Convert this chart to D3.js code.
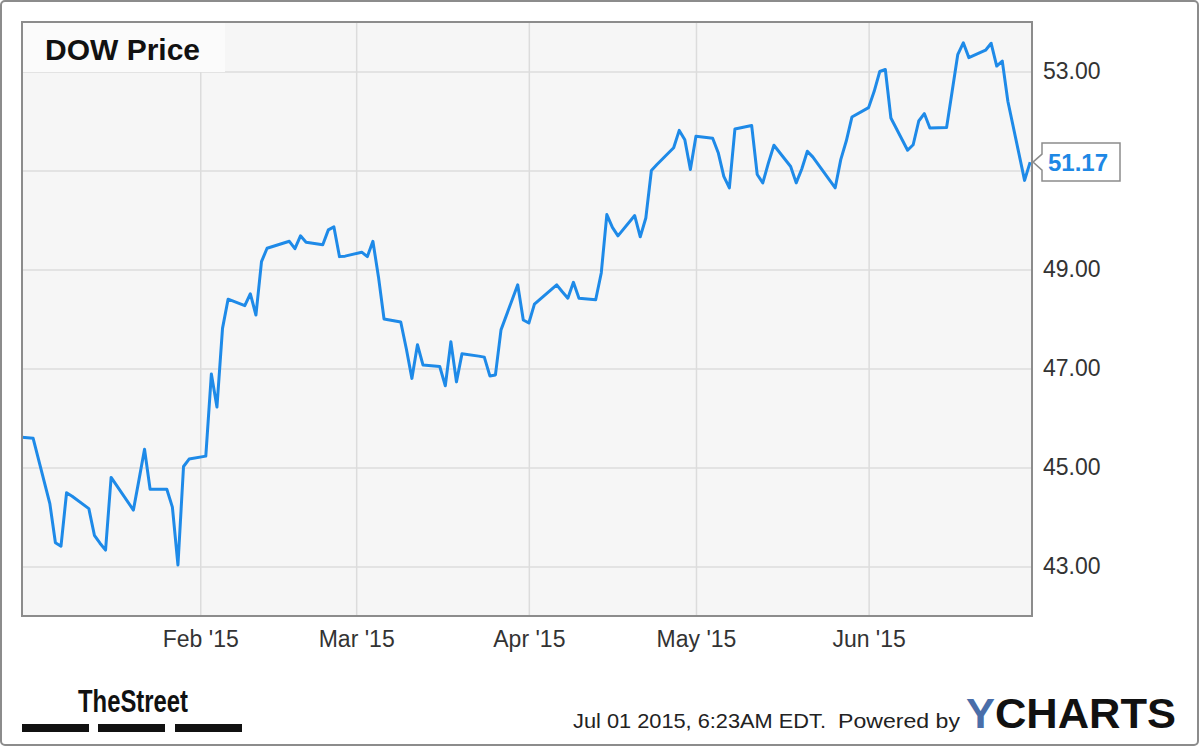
<!DOCTYPE html>
<html>
<head>
<meta charset="utf-8">
<script src="https://cdn.jsdelivr.net/npm/d3@7"></script>
<style>
  body { margin: 0; background: #fff; }
  svg { display: block; font-family: "Liberation Sans", Arial, sans-serif; }
  .grid line { stroke: #dcdcdc; stroke-width: 1.5; }
  .grid path { display: none; }
  .lbl path, .lbl line { display: none; }
  .lbl text { fill: #333; font-size: 23px; }
</style>
</head>
<body>
<div id="chart"></div>
<script>
// chart data
var dates = [
  "2014-12-31", "2015-01-02", "2015-01-05", "2015-01-06", "2015-01-07", "2015-01-08", "2015-01-09",
  "2015-01-12", "2015-01-13", "2015-01-14", "2015-01-15", "2015-01-16", "2015-01-20", "2015-01-21",
  "2015-01-22", "2015-01-23", "2015-01-26", "2015-01-27", "2015-01-28", "2015-01-29", "2015-01-30",
  "2015-02-02", "2015-02-03", "2015-02-04", "2015-02-05", "2015-02-06", "2015-02-09", "2015-02-10",
  "2015-02-11", "2015-02-12", "2015-02-13", "2015-02-17", "2015-02-18", "2015-02-19", "2015-02-20",
  "2015-02-23", "2015-02-24", "2015-02-25", "2015-02-26", "2015-02-27", "2015-03-02", "2015-03-03",
  "2015-03-04", "2015-03-05", "2015-03-06", "2015-03-09", "2015-03-10", "2015-03-11", "2015-03-12",
  "2015-03-13", "2015-03-16", "2015-03-17", "2015-03-18", "2015-03-19", "2015-03-20", "2015-03-23",
  "2015-03-24", "2015-03-25", "2015-03-26", "2015-03-27", "2015-03-30", "2015-03-31", "2015-04-01",
  "2015-04-02", "2015-04-06", "2015-04-07", "2015-04-08", "2015-04-09", "2015-04-10", "2015-04-13",
  "2015-04-14", "2015-04-15", "2015-04-16", "2015-04-17", "2015-04-20", "2015-04-21", "2015-04-22",
  "2015-04-23", "2015-04-24", "2015-04-27", "2015-04-28", "2015-04-29", "2015-04-30", "2015-05-01",
  "2015-05-04", "2015-05-05", "2015-05-06", "2015-05-07", "2015-05-08", "2015-05-11", "2015-05-12",
  "2015-05-13", "2015-05-14", "2015-05-15", "2015-05-18", "2015-05-19", "2015-05-20", "2015-05-21",
  "2015-05-22", "2015-05-26", "2015-05-27", "2015-05-28", "2015-05-29", "2015-06-01", "2015-06-02",
  "2015-06-03", "2015-06-04", "2015-06-05", "2015-06-08", "2015-06-09", "2015-06-10", "2015-06-11",
  "2015-06-12", "2015-06-15", "2015-06-16", "2015-06-17", "2015-06-18", "2015-06-19", "2015-06-22",
  "2015-06-23", "2015-06-24", "2015-06-25", "2015-06-26", "2015-06-29", "2015-06-30"
]

var prices = [
  45.61, 45.59, 44.27, 43.48, 43.41, 44.49, 44.42,
  44.17, 43.63, 43.47, 43.33, 44.80, 44.14, 44.75,
  45.37, 44.56, 44.56, 44.20, 43.03, 45.02, 45.17,
  45.23, 46.89, 46.22, 47.81, 48.40, 48.27, 48.51,
  48.08, 49.16, 49.43, 49.57, 49.42, 49.68, 49.55,
  49.50, 49.80, 49.86, 49.26, 49.27, 49.35, 49.26,
  49.57, 48.85, 48.00, 47.94, 47.40, 46.80, 47.48,
  47.07, 47.04, 46.65, 47.54, 46.73, 47.30, 47.25,
  47.23, 46.85, 46.87, 47.78, 48.69, 47.98, 47.92,
  48.30, 48.69, 48.55, 48.42, 48.74, 48.42, 48.39,
  48.93, 50.11, 49.85, 49.68, 50.09, 49.66, 50.04,
  51.00, 51.12, 51.46, 51.81, 51.62, 51.02, 51.69,
  51.65, 51.36, 50.88, 50.65, 51.84, 51.91, 50.92,
  50.75, 51.15, 51.51, 51.08, 50.75, 51.03, 51.39,
  51.27, 50.65, 51.22, 51.60, 52.08, 52.27, 52.60,
  53.00, 53.04, 52.06, 51.41, 51.52, 52.00, 52.15,
  51.86, 51.87, 52.60, 53.34, 53.58, 53.28, 53.43,
  53.57, 53.11, 53.21, 52.40, 50.80, 51.17
]

var yTicks = [43, 45, 47, 49, 51, 53]
var xTicks = ["2015-02-01", "2015-03-01", "2015-04-01", "2015-05-01", "2015-06-01"]

var svgWidth = 1200
var svgHeight = 747

// plot box inside the frame
var plot = { left: 22, top: 22, right: 1032, bottom: 616 }
var width = plot.right - plot.left
var height = plot.bottom - plot.top

var parseDate = d3.timeParse("%Y-%m-%d")
var data = dates.map(function(d, i) {
  return { date: parseDate(d), price: prices[i] }
})

var svg = d3.select("#chart")
  .append("svg")
  .attr("width", svgWidth)
  .attr("height", svgHeight)

// outer frame
svg.append("rect")
  .attr("x", 1).attr("y", 1)
  .attr("width", svgWidth - 3).attr("height", svgHeight - 3)
  .attr("rx", 4)
  .attr("fill", "#fff")
  .attr("stroke", "#8c8c8c")
  .attr("stroke-width", 2)

// scales
var xScale = d3.scaleTime()
  .domain([new Date(2014, 11, 31), new Date(2015, 5, 30, 8)])
  .range([plot.left, plot.right])

var yScale = d3.scaleLinear()
  .domain([42, 54])
  .range([plot.bottom, plot.top])

// plot background
svg.append("rect")
  .attr("x", plot.left).attr("y", plot.top)
  .attr("width", width).attr("height", height)
  .attr("fill", "#f6f6f6")

// gridlines
svg.append("g")
  .attr("class", "grid")
  .attr("transform", `translate(${plot.left}, 0)`)
  .call(d3.axisLeft(yScale).tickValues(yTicks).tickSize(-width).tickFormat(""))

svg.append("g")
  .attr("class", "grid")
  .attr("transform", `translate(0, ${plot.bottom})`)
  .call(d3.axisBottom(xScale).tickValues(xTicks.map(parseDate)).tickSize(-height).tickFormat(""))

// title box
svg.append("rect")
  .attr("x", plot.left).attr("y", plot.top)
  .attr("width", 203).attr("height", 50)
  .attr("fill", "#fbfbfb")

svg.append("text")
  .attr("x", 45).attr("y", 60)
  .attr("font-size", 30)
  .attr("font-weight", "bold")
  .attr("fill", "#111")
  .text("DOW Price")

// price line
var line = d3.line()
  .x(d => xScale(d.date))
  .y(d => yScale(d.price))

svg.append("path")
  .datum(data)
  .attr("fill", "none")
  .attr("stroke", "#1e8ae8")
  .attr("stroke-width", 3)
  .attr("stroke-linejoin", "round")
  .attr("d", line)

// plot border
svg.append("rect")
  .attr("x", plot.left).attr("y", plot.top)
  .attr("width", width).attr("height", height)
  .attr("fill", "none")
  .attr("stroke", "#8c8c8c")
  .attr("stroke-width", 2)

// last value position (its flag hides the tick label under it)
var last = data[data.length - 1]
var ly = yScale(last.price)

// axis labels
svg.append("g")
  .attr("class", "lbl")
  .attr("transform", `translate(${plot.right}, 0)`)
  .call(d3.axisRight(yScale)
    .tickValues(yTicks.filter(t => Math.abs(yScale(t) - ly) > 22))
    .tickSize(0).tickPadding(11).tickFormat(d3.format(".2f")))

svg.append("g")
  .attr("class", "lbl")
  .attr("transform", `translate(0, ${plot.bottom})`)
  .call(d3.axisBottom(xScale).tickValues(xTicks.map(parseDate)).tickSize(0).tickPadding(15)
    .tickFormat(d3.timeFormat("%b '%y")))

// last value flag
var bx = plot.right + 10
svg.append("path")
  .attr("d", `M${bx},${ly - 19} H${bx + 78} V${ly + 19} H${bx} V${ly + 8} L${plot.right + 1},${ly} L${bx},${ly - 8} Z`)
  .attr("fill", "#fff")
  .attr("stroke", "#8c8c8c")
  .attr("stroke-width", 1.5)

svg.append("text")
  .attr("x", bx + 6).attr("y", ly + 9)
  .attr("font-size", 24)
  .attr("font-weight", "bold")
  .attr("fill", "#1e88e5")
  .text(d3.format(".2f")(last.price))

// footer: TheStreet logo
svg.append("text")
  .attr("x", 78).attr("y", 712)
  .attr("font-family", "'Liberation Sans Narrow', 'Arial Narrow', 'Liberation Sans', sans-serif")
  .attr("font-size", 32)
  .attr("font-weight", "bold")
  .attr("fill", "#111")
  .attr("textLength", 110)
  .attr("lengthAdjust", "spacingAndGlyphs")
  .text("TheStreet")

var bars = [22, 98, 175]
svg.selectAll(".bar")
  .data(bars)
  .enter()
  .append("rect")
  .attr("class", "bar")
  .attr("x", d => d).attr("y", 724)
  .attr("width", 67).attr("height", 8)
  .attr("fill", "#111")

// footer: timestamp + YCharts
svg.append("text")
  .attr("x", 573).attr("y", 728)
  .attr("font-size", 21)
  .attr("fill", "#222")
  .attr("textLength", 253)
  .attr("lengthAdjust", "spacingAndGlyphs")
  .text("Jul 01 2015, 6:23AM EDT.")

svg.append("text")
  .attr("x", 838).attr("y", 728)
  .attr("font-size", 21)
  .attr("fill", "#222")
  .attr("textLength", 122)
  .attr("lengthAdjust", "spacingAndGlyphs")
  .text("Powered by")

var yc = svg.append("text")
  .attr("x", 966).attr("y", 728)
  .attr("font-size", 43)
  .attr("font-weight", "bold")
  .attr("fill", "#111")
  .attr("textLength", 210)
  .attr("lengthAdjust", "spacingAndGlyphs")
yc.append("tspan").attr("fill", "#4a6ea9").text("Y")
yc.append("tspan").text("CHARTS")
</script>
</body>
</html>
